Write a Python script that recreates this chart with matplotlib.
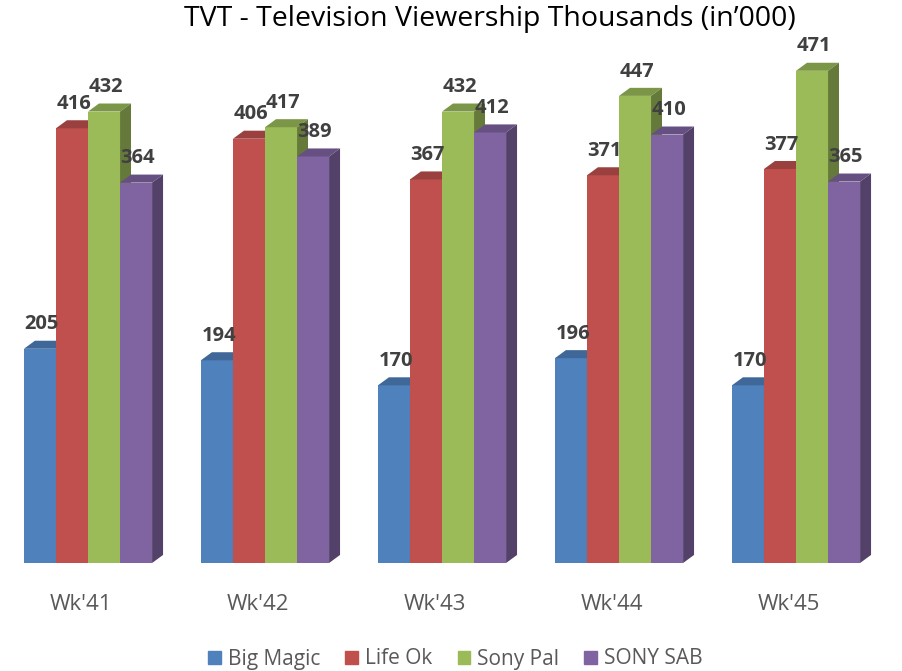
import numpy as np
import matplotlib
matplotlib.use('Agg')
from matplotlib import pyplot as plt
from matplotlib import patches as mpatches
from matplotlib import colors as mcolors

weeks = ["Wk'41", "Wk'42", "Wk'43", "Wk'44", "Wk'45"]
channels = ['Big Magic', 'Life Ok', 'Sony Pal', 'SONY SAB']
big_magic = [205, 194, 170, 196, 170]
life_ok = [416, 406, 367, 371, 377]
sony_pal = [432, 417, 432, 447, 471]
sony_sab = [364, 389, 412, 410, 365]
colors = ['#4F81BD', '#C0504D', '#9BBB59', '#8064A2']

plt.rcParams['font.family'] = ['Open Sans', 'DejaVu Sans']


def shade(c, f):
    r, g, b = mcolors.to_rgb(c)
    return (r * f, g * f, b * f)


def MakePlot():
    fig = plt.figure(figsize=(9.02, 6.71), dpi=100)
    ax = fig.add_axes([0, (671 - 563) / 671, 1, (563 - 40) / 671])
    ax.set_xlim(-88 / 177, (902 - 88) / 177)
    ax.set_ylim(0, (563 - 40) / 1.045)

    series = [big_magic, life_ok, sony_pal, sony_sab]
    w = 0.181
    dx = 0.062
    dy = 7.7
    x = np.arange(len(weeks))
    z = 1
    for g in range(len(weeks)):
        for i, data in enumerate(series):
            x0 = x[g] - 2 * w + i * w
            x1 = x0 + w
            h = data[g]
            c = colors[i]
            ax.add_patch(mpatches.Rectangle((x0, 0), w, h, facecolor=c,
                                            edgecolor='none', zorder=z))
            ax.add_patch(mpatches.Polygon([(x0, h), (x1, h), (x1 + dx, h + dy),
                                           (x0 + dx, h + dy)], closed=True,
                                          facecolor=shade(c, 0.8),
                                          edgecolor='none', zorder=z))
            ax.add_patch(mpatches.Polygon([(x1, 0), (x1 + dx, dy), (x1 + dx, h + dy),
                                           (x1, h)], closed=True,
                                          facecolor=shade(c, 0.65),
                                          edgecolor='none', zorder=z))
            z += 1
            ax.text(x0 + w / 2 + 0.01, h + dy + 6, str(h), ha='center', va='bottom',
                    fontsize=14.5, fontweight='bold', color='#404040', zorder=100)

    ax.set_xticks(x - 0.04)
    ax.set_xticklabels(weeks, fontsize=16, color='#595959')
    ax.tick_params(axis='x', length=0, pad=22)
    ax.set_yticks([])
    for s in ax.spines.values():
        s.set_visible(False)

    fig.text(490 / 902, 1 - 19 / 671, 'TVT - Television Viewership Thousands (in\u2019000)',
             ha='center', va='center', fontsize=20.5, color='#000000')

    handles = [mpatches.Patch(color=colors[i], label=channels[i])
               for i in range(len(channels))]
    fig.legend(handles=handles, loc='center', bbox_to_anchor=(0.505, 1 - 659 / 671),
               ncol=4, frameon=False, fontsize=15, labelcolor='#595959',
               handlelength=0.6, handleheight=0.6, handletextpad=0.35,
               columnspacing=1.2)

    plt.savefig('out.png', dpi=100)


if __name__ == '__main__':
    MakePlot()
